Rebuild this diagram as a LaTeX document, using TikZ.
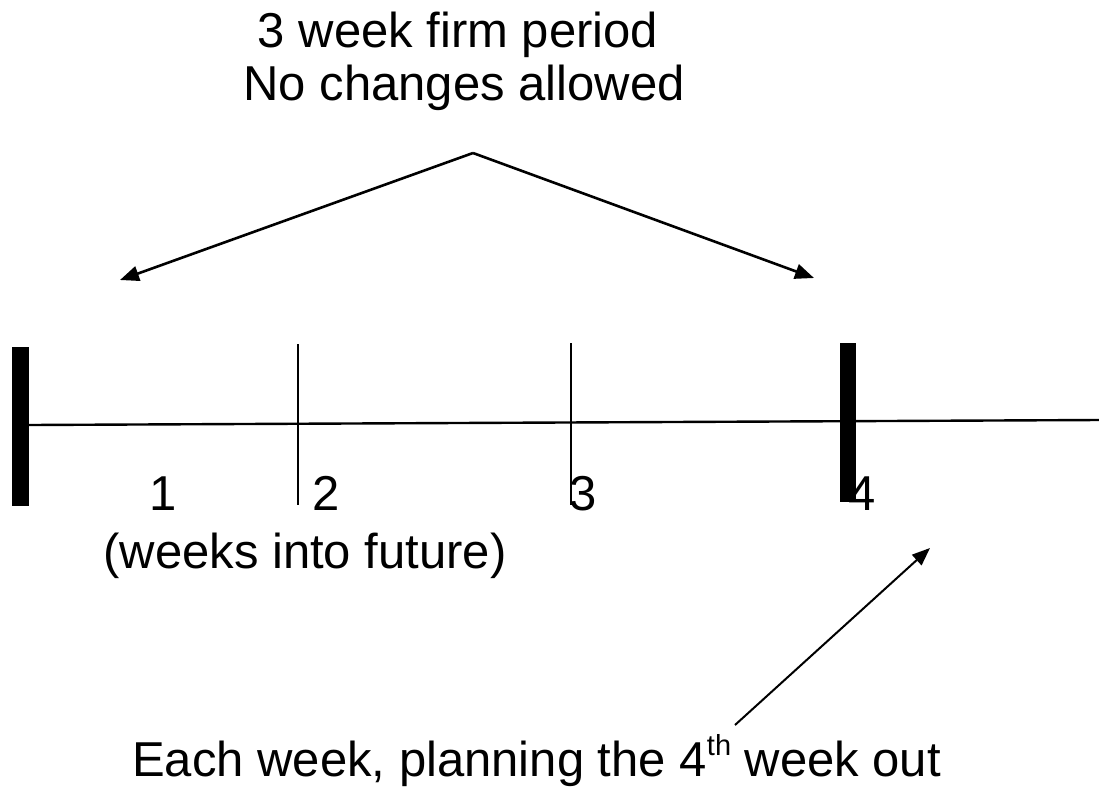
\documentclass[tikz,border=0pt]{standalone}
\usepackage{fontspec}
\setmainfont{Liberation Sans}
\usetikzlibrary{arrows.meta}
\newcommand{\supth}{\raisebox{0.42em}{\fontsize{29}{30}\selectfont th}}
\begin{document}
\begin{tikzpicture}[x=1pt,y=-1pt,
  lbl/.style={anchor=base,inner sep=0pt,font=\fontsize{49}{56}\selectfont},
  thickbar/.style={fill=black,draw=none,inner sep=0pt},
  tickline/.style={line width=1.8pt},
  axisline/.style={line width=2.4pt},
  arr/.style={line width=2.6pt,-{Triangle[length=19pt,width=15pt]}},
  arrthin/.style={line width=2pt,-{Triangle[length=18pt,width=14pt]}}]
\useasboundingbox (0,0) rectangle (1099,790);
% axis
\coordinate (axL) at (29,425);
\coordinate (axR) at (1099,420);
\draw[axisline] (axL) -- (axR);
% thick bars
\node[thickbar,minimum width=17pt,minimum height=159pt] (bar1) at (20.5,426.5) {};
\node[thickbar,minimum width=16pt,minimum height=159pt] (bar4) at (848,422.5) {};
% thin ticks
\coordinate (t2a) at (298,344); \coordinate (t2b) at (298,505);
\coordinate (t3a) at (571,343); \coordinate (t3b) at (571,505);
\draw[tickline] (t2a) -- (t2b);
\draw[tickline] (t3a) -- (t3b);
% labels
\node[lbl] (n1) at (163,510) {1};
\node[lbl] (n2) at (326,510) {2};
\node[lbl] (n3) at (583,510) {3};
\node[lbl] (n4) at (862,510) {4};
\node[lbl] (weeks) at (305,568) {(weeks into future)};
% title
\node[lbl] (title1) at (458,47) {3 week firm period};
\node[lbl] (title2) at (464,100) {No changes allowed};
% top arrows
\coordinate (apex) at (473,153);
\coordinate (tipL) at (120,280);
\coordinate (tipR) at (814,278);
\draw[arr] (apex) -- (tipL);
\draw[arr] (apex) -- (tipR);
% bottom text and arrow
\node[lbl,anchor=base west] (bottom) at (132,776) {Each week, planning the 4\supth{} week out};
\coordinate (bstart) at (735,725);
\coordinate (btip) at (930,548);
\draw[arrthin] (bstart) -- (btip);
\end{tikzpicture}
\end{document}
